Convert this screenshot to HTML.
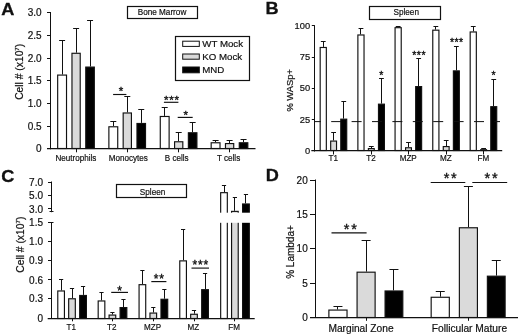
<!DOCTYPE html>
<html><head><meta charset="utf-8"><title>Figure</title>
<style>
html,body{margin:0;padding:0;background:#fff;}
body{width:520px;height:335px;overflow:hidden;}
svg{display:block;will-change:transform;opacity:0.999;font-family:"Liberation Sans",sans-serif;fill:#111;}
</style></head><body>
<svg width="520" height="335" viewBox="0 0 520 335">
<rect x="0" y="0" width="520" height="335" fill="#fff"/>
<text transform="translate(1.20,14.60) scale(1.1,1)" font-size="16.5" font-weight="bold" stroke="#111" stroke-width="0.3">A</text>
<line x1="50.50" y1="12.00" x2="50.50" y2="149.30" stroke="#111" stroke-width="1" />
<line x1="47.00" y1="148.50" x2="255.50" y2="148.50" stroke="#111" stroke-width="1.25" />
<line x1="47.00" y1="12.50" x2="50.60" y2="12.50" stroke="#111" stroke-width="1" />
<text transform="translate(41.60,16.10) scale(1.0,1)" font-size="10" text-anchor="end" stroke="#111" stroke-width="0.2" >3.0</text>
<line x1="47.00" y1="35.50" x2="50.60" y2="35.50" stroke="#111" stroke-width="1" />
<text transform="translate(41.60,39.10) scale(1.0,1)" font-size="10" text-anchor="end" stroke="#111" stroke-width="0.2" >2.5</text>
<line x1="47.00" y1="58.50" x2="50.60" y2="58.50" stroke="#111" stroke-width="1" />
<text transform="translate(41.60,61.60) scale(1.0,1)" font-size="10" text-anchor="end" stroke="#111" stroke-width="0.2" >2.0</text>
<line x1="47.00" y1="80.50" x2="50.60" y2="80.50" stroke="#111" stroke-width="1" />
<text transform="translate(41.60,84.10) scale(1.0,1)" font-size="10" text-anchor="end" stroke="#111" stroke-width="0.2" >1.5</text>
<line x1="47.00" y1="103.50" x2="50.60" y2="103.50" stroke="#111" stroke-width="1" />
<text transform="translate(41.60,106.80) scale(1.0,1)" font-size="10" text-anchor="end" stroke="#111" stroke-width="0.2" >1.0</text>
<line x1="47.00" y1="126.50" x2="50.60" y2="126.50" stroke="#111" stroke-width="1" />
<text transform="translate(41.60,129.90) scale(1.0,1)" font-size="10" text-anchor="end" stroke="#111" stroke-width="0.2" >0.5</text>
<line x1="47.00" y1="148.50" x2="50.60" y2="148.50" stroke="#111" stroke-width="1" />
<text transform="translate(41.60,152.40) scale(1.0,1)" font-size="10" text-anchor="end" stroke="#111" stroke-width="0.2" >0</text>
<text transform="translate(23.30,71.80) rotate(-90) scale(1.03,1)" font-size="10" text-anchor="middle" stroke="#111" stroke-width="0.2">Cell # (x10<tspan font-size="6" dy="-4">7</tspan><tspan dy="4">)</tspan></text>
<rect x="127.50" y="6.50" width="70.00" height="12.00" fill="#fff" stroke="#111" stroke-width="1.2"/>
<text transform="translate(162.00,15.20) scale(0.93,1)" font-size="8.8" text-anchor="middle" stroke="#111" stroke-width="0.2" >Bone Marrow</text>
<rect x="175.50" y="36.50" width="74.00" height="44.00" fill="#fff" stroke="#111" stroke-width="1.2"/>
<rect x="182.7" y="41.20" width="16.6" height="5.20" fill="#fff" stroke="#111" stroke-width="1"/>
<text transform="translate(202.30,47.00) scale(1.0,1)" font-size="9.7" text-anchor="start" stroke="#111" stroke-width="0.2" >WT Mock</text>
<rect x="182.7" y="54.00" width="16.6" height="5.20" fill="#dadada" stroke="#111" stroke-width="1"/>
<text transform="translate(202.30,60.00) scale(1.0,1)" font-size="9.7" text-anchor="start" stroke="#111" stroke-width="0.2" >KO Mock</text>
<rect x="182.7" y="67.00" width="16.6" height="5.80" fill="#000" stroke="#111" stroke-width="1"/>
<text transform="translate(202.30,73.30) scale(1.0,1)" font-size="9.7" text-anchor="start" stroke="#111" stroke-width="0.2" >MND</text>
<line x1="62.50" y1="40.70" x2="62.50" y2="74.50" stroke="#111" stroke-width="1.05" />
<line x1="59.10" y1="40.50" x2="65.10" y2="40.50" stroke="#111" stroke-width="1.05" />
<rect x="57.67" y="75.08" width="8.85" height="73.42" fill="#fff" stroke="#111" stroke-width="1.15"/>
<line x1="76.50" y1="28.90" x2="76.50" y2="52.70" stroke="#111" stroke-width="1.05" />
<line x1="73.10" y1="28.50" x2="79.10" y2="28.50" stroke="#111" stroke-width="1.05" />
<rect x="71.97" y="53.28" width="8.25" height="95.22" fill="#dadada" stroke="#111" stroke-width="1.15"/>
<line x1="90.50" y1="20.80" x2="90.50" y2="66.50" stroke="#111" stroke-width="1.05" />
<line x1="87.05" y1="20.50" x2="93.05" y2="20.50" stroke="#111" stroke-width="1.05" />
<rect x="85.77" y="67.08" width="8.55" height="81.42" fill="#000" stroke="#111" stroke-width="1.15"/>
<line x1="76.50" y1="148.80" x2="76.50" y2="152.30" stroke="#111" stroke-width="1" />
<text transform="translate(75.90,160.80) scale(0.9,1)" font-size="9" text-anchor="middle" stroke="#111" stroke-width="0.2" >Neutrophils</text>
<line x1="113.50" y1="121.60" x2="113.50" y2="126.20" stroke="#111" stroke-width="1.05" />
<line x1="110.30" y1="121.50" x2="116.30" y2="121.50" stroke="#111" stroke-width="1.05" />
<rect x="108.88" y="126.78" width="8.85" height="21.72" fill="#fff" stroke="#111" stroke-width="1.15"/>
<line x1="127.50" y1="97.00" x2="127.50" y2="112.40" stroke="#111" stroke-width="1.05" />
<line x1="124.30" y1="96.50" x2="130.30" y2="96.50" stroke="#111" stroke-width="1.05" />
<rect x="123.17" y="112.98" width="8.25" height="35.52" fill="#dadada" stroke="#111" stroke-width="1.15"/>
<line x1="141.50" y1="109.80" x2="141.50" y2="122.90" stroke="#111" stroke-width="1.05" />
<line x1="138.25" y1="109.50" x2="144.25" y2="109.50" stroke="#111" stroke-width="1.05" />
<rect x="136.97" y="123.48" width="8.55" height="25.02" fill="#000" stroke="#111" stroke-width="1.15"/>
<line x1="127.50" y1="148.80" x2="127.50" y2="152.30" stroke="#111" stroke-width="1" />
<text transform="translate(128.30,160.80) scale(0.9,1)" font-size="9" text-anchor="middle" stroke="#111" stroke-width="0.2" >Monocytes</text>
<line x1="164.50" y1="107.80" x2="164.50" y2="115.90" stroke="#111" stroke-width="1.05" />
<line x1="161.70" y1="107.50" x2="167.70" y2="107.50" stroke="#111" stroke-width="1.05" />
<rect x="160.27" y="116.48" width="8.85" height="32.02" fill="#fff" stroke="#111" stroke-width="1.15"/>
<line x1="178.50" y1="132.90" x2="178.50" y2="141.20" stroke="#111" stroke-width="1.05" />
<line x1="175.70" y1="132.50" x2="181.70" y2="132.50" stroke="#111" stroke-width="1.05" />
<rect x="174.57" y="141.77" width="8.25" height="6.73" fill="#dadada" stroke="#111" stroke-width="1.15"/>
<line x1="192.50" y1="122.90" x2="192.50" y2="132.20" stroke="#111" stroke-width="1.05" />
<line x1="189.65" y1="122.50" x2="195.65" y2="122.50" stroke="#111" stroke-width="1.05" />
<rect x="188.37" y="132.77" width="8.55" height="15.73" fill="#000" stroke="#111" stroke-width="1.15"/>
<line x1="178.50" y1="148.80" x2="178.50" y2="152.30" stroke="#111" stroke-width="1" />
<text transform="translate(176.70,160.80) scale(0.9,1)" font-size="9" text-anchor="middle" stroke="#111" stroke-width="0.2" >B cells</text>
<line x1="215.50" y1="140.50" x2="215.50" y2="142.20" stroke="#111" stroke-width="1.05" />
<line x1="212.60" y1="140.50" x2="218.60" y2="140.50" stroke="#111" stroke-width="1.05" />
<rect x="211.17" y="142.77" width="8.85" height="5.73" fill="#fff" stroke="#111" stroke-width="1.15"/>
<line x1="229.50" y1="140.50" x2="229.50" y2="143.00" stroke="#111" stroke-width="1.05" />
<line x1="226.60" y1="140.50" x2="232.60" y2="140.50" stroke="#111" stroke-width="1.05" />
<rect x="225.47" y="143.57" width="8.25" height="4.93" fill="#dadada" stroke="#111" stroke-width="1.15"/>
<line x1="243.50" y1="139.20" x2="243.50" y2="142.20" stroke="#111" stroke-width="1.05" />
<line x1="240.55" y1="139.50" x2="246.55" y2="139.50" stroke="#111" stroke-width="1.05" />
<rect x="239.27" y="142.77" width="8.55" height="5.73" fill="#000" stroke="#111" stroke-width="1.15"/>
<line x1="229.50" y1="148.80" x2="229.50" y2="152.30" stroke="#111" stroke-width="1" />
<text transform="translate(228.60,160.80) scale(0.9,1)" font-size="9" text-anchor="middle" stroke="#111" stroke-width="0.2" >T cells</text>
<line x1="113.10" y1="94.50" x2="126.40" y2="94.50" stroke="#111" stroke-width="1.15" />
<text transform="translate(121.00,95.18) scale(1.0,1)" font-size="11.5" text-anchor="middle" stroke="#111" stroke-width="0.35" >*</text>
<line x1="163.90" y1="102.30" x2="178.40" y2="102.30" stroke="#111" stroke-width="1.15" />
<text transform="translate(171.80,104.18) scale(1.0,1)" font-size="11.5" text-anchor="middle" stroke="#111" stroke-width="0.35" letter-spacing="0.8">***</text>
<line x1="177.70" y1="117.40" x2="192.70" y2="117.40" stroke="#111" stroke-width="1.15" />
<text transform="translate(185.70,119.28) scale(1.0,1)" font-size="11.5" text-anchor="middle" stroke="#111" stroke-width="0.35" >*</text>
<text transform="translate(265.60,14.40) scale(1.1,1)" font-size="16.5" font-weight="bold" stroke="#111" stroke-width="0.3">B</text>
<line x1="314.50" y1="25.30" x2="314.50" y2="151.50" stroke="#111" stroke-width="1" />
<line x1="311.40" y1="150.50" x2="502.20" y2="150.50" stroke="#111" stroke-width="1.25" />
<line x1="311.80" y1="25.50" x2="314.80" y2="25.50" stroke="#111" stroke-width="1" />
<text transform="translate(310.10,28.90) scale(1.0,1)" font-size="9.3" text-anchor="end" stroke="#111" stroke-width="0.2" >100</text>
<line x1="311.80" y1="57.50" x2="314.80" y2="57.50" stroke="#111" stroke-width="1" />
<text transform="translate(310.10,60.30) scale(1.0,1)" font-size="9.3" text-anchor="end" stroke="#111" stroke-width="0.2" >75</text>
<line x1="311.80" y1="88.50" x2="314.80" y2="88.50" stroke="#111" stroke-width="1" />
<text transform="translate(310.10,91.40) scale(1.0,1)" font-size="9.3" text-anchor="end" stroke="#111" stroke-width="0.2" >50</text>
<line x1="311.80" y1="119.50" x2="314.80" y2="119.50" stroke="#111" stroke-width="1" />
<text transform="translate(310.10,123.00) scale(1.0,1)" font-size="9.3" text-anchor="end" stroke="#111" stroke-width="0.2" >25</text>
<line x1="311.80" y1="150.50" x2="314.80" y2="150.50" stroke="#111" stroke-width="1" />
<text transform="translate(310.10,154.10) scale(1.0,1)" font-size="9.3" text-anchor="end" stroke="#111" stroke-width="0.2" >0</text>
<text transform="translate(293.40,90.30) rotate(-90) scale(1.04,1)" font-size="9" text-anchor="middle" stroke="#111" stroke-width="0.2">% WASp+</text>
<rect x="369.50" y="6.50" width="71.00" height="13.00" fill="#fff" stroke="#111" stroke-width="1.2"/>
<text transform="translate(406.20,15.00) scale(0.91,1)" font-size="9" text-anchor="middle" stroke="#111" stroke-width="0.2" >Spleen</text>
<line x1="323.50" y1="41.50" x2="323.50" y2="46.90" stroke="#111" stroke-width="1.05" />
<line x1="320.85" y1="41.50" x2="325.65" y2="41.50" stroke="#111" stroke-width="1.05" />
<rect x="320.18" y="47.48" width="6.15" height="103.03" fill="#fff" stroke="#111" stroke-width="1.15"/>
<line x1="333.50" y1="132.40" x2="333.50" y2="140.50" stroke="#111" stroke-width="1.05" />
<line x1="331.20" y1="132.50" x2="336.00" y2="132.50" stroke="#111" stroke-width="1.05" />
<rect x="330.68" y="141.07" width="5.85" height="9.43" fill="#dadada" stroke="#111" stroke-width="1.15"/>
<line x1="343.50" y1="101.10" x2="343.50" y2="118.60" stroke="#111" stroke-width="1.05" />
<line x1="341.35" y1="101.50" x2="346.15" y2="101.50" stroke="#111" stroke-width="1.05" />
<rect x="340.78" y="119.17" width="5.95" height="31.33" fill="#000" stroke="#111" stroke-width="1.15"/>
<line x1="333.50" y1="151.00" x2="333.50" y2="154.50" stroke="#111" stroke-width="1" />
<text transform="translate(333.30,160.80) scale(0.9,1)" font-size="9" text-anchor="middle" stroke="#111" stroke-width="0.2" >T1</text>
<line x1="360.50" y1="28.90" x2="360.50" y2="34.40" stroke="#111" stroke-width="1.05" />
<line x1="358.55" y1="28.50" x2="363.35" y2="28.50" stroke="#111" stroke-width="1.05" />
<rect x="357.88" y="34.98" width="6.15" height="115.53" fill="#fff" stroke="#111" stroke-width="1.15"/>
<line x1="371.50" y1="146.70" x2="371.50" y2="148.00" stroke="#111" stroke-width="1.05" />
<line x1="368.90" y1="146.50" x2="373.70" y2="146.50" stroke="#111" stroke-width="1.05" />
<rect x="368.38" y="148.57" width="5.85" height="1.93" fill="#dadada" stroke="#111" stroke-width="1.15"/>
<line x1="381.50" y1="79.00" x2="381.50" y2="103.60" stroke="#111" stroke-width="1.05" />
<line x1="379.05" y1="78.50" x2="383.85" y2="78.50" stroke="#111" stroke-width="1.05" />
<rect x="378.48" y="104.17" width="5.95" height="46.33" fill="#000" stroke="#111" stroke-width="1.15"/>
<line x1="371.50" y1="151.00" x2="371.50" y2="154.50" stroke="#111" stroke-width="1" />
<text transform="translate(371.00,160.80) scale(0.9,1)" font-size="9" text-anchor="middle" stroke="#111" stroke-width="0.2" >T2</text>
<line x1="398.50" y1="26.10" x2="398.50" y2="27.10" stroke="#111" stroke-width="1.05" />
<line x1="395.75" y1="26.50" x2="400.55" y2="26.50" stroke="#111" stroke-width="1.05" />
<rect x="395.07" y="27.68" width="6.15" height="122.83" fill="#fff" stroke="#111" stroke-width="1.15"/>
<line x1="408.50" y1="142.50" x2="408.50" y2="147.20" stroke="#111" stroke-width="1.05" />
<line x1="406.10" y1="142.50" x2="410.90" y2="142.50" stroke="#111" stroke-width="1.05" />
<rect x="405.57" y="147.77" width="5.85" height="2.73" fill="#dadada" stroke="#111" stroke-width="1.15"/>
<line x1="418.50" y1="58.20" x2="418.50" y2="86.00" stroke="#111" stroke-width="1.05" />
<line x1="416.25" y1="58.50" x2="421.05" y2="58.50" stroke="#111" stroke-width="1.05" />
<rect x="415.68" y="86.58" width="5.95" height="63.92" fill="#000" stroke="#111" stroke-width="1.15"/>
<line x1="408.50" y1="151.00" x2="408.50" y2="154.50" stroke="#111" stroke-width="1" />
<text transform="translate(408.20,160.80) scale(0.9,1)" font-size="9" text-anchor="middle" stroke="#111" stroke-width="0.2" >MZP</text>
<line x1="435.50" y1="26.30" x2="435.50" y2="29.60" stroke="#111" stroke-width="1.05" />
<line x1="433.45" y1="26.50" x2="438.25" y2="26.50" stroke="#111" stroke-width="1.05" />
<rect x="432.77" y="30.18" width="6.15" height="120.33" fill="#fff" stroke="#111" stroke-width="1.15"/>
<line x1="446.50" y1="140.50" x2="446.50" y2="146.00" stroke="#111" stroke-width="1.05" />
<line x1="443.80" y1="140.50" x2="448.60" y2="140.50" stroke="#111" stroke-width="1.05" />
<rect x="443.27" y="146.57" width="5.85" height="3.93" fill="#dadada" stroke="#111" stroke-width="1.15"/>
<line x1="456.50" y1="46.40" x2="456.50" y2="70.30" stroke="#111" stroke-width="1.05" />
<line x1="453.95" y1="46.50" x2="458.75" y2="46.50" stroke="#111" stroke-width="1.05" />
<rect x="453.38" y="70.88" width="5.95" height="79.62" fill="#000" stroke="#111" stroke-width="1.15"/>
<line x1="446.50" y1="151.00" x2="446.50" y2="154.50" stroke="#111" stroke-width="1" />
<text transform="translate(445.90,160.80) scale(0.9,1)" font-size="9" text-anchor="middle" stroke="#111" stroke-width="0.2" >MZ</text>
<line x1="473.50" y1="26.30" x2="473.50" y2="31.40" stroke="#111" stroke-width="1.05" />
<line x1="470.85" y1="26.50" x2="475.65" y2="26.50" stroke="#111" stroke-width="1.05" />
<rect x="470.18" y="31.97" width="6.15" height="118.53" fill="#fff" stroke="#111" stroke-width="1.15"/>
<line x1="483.50" y1="148.00" x2="483.50" y2="149.20" stroke="#111" stroke-width="1.05" />
<line x1="481.20" y1="148.50" x2="486.00" y2="148.50" stroke="#111" stroke-width="1.05" />
<rect x="480.68" y="149.70" width="5.85" height="0.80" fill="#dadada" stroke="#111" stroke-width="1.15"/>
<line x1="493.50" y1="79.80" x2="493.50" y2="106.10" stroke="#111" stroke-width="1.05" />
<line x1="491.35" y1="79.50" x2="496.15" y2="79.50" stroke="#111" stroke-width="1.05" />
<rect x="490.78" y="106.67" width="5.95" height="43.83" fill="#000" stroke="#111" stroke-width="1.15"/>
<line x1="483.50" y1="151.00" x2="483.50" y2="154.50" stroke="#111" stroke-width="1" />
<text transform="translate(483.30,160.80) scale(0.9,1)" font-size="9" text-anchor="middle" stroke="#111" stroke-width="0.2" >FM</text>
<line x1="314.80" y1="121.60" x2="500.00" y2="121.60" stroke="#111" stroke-width="1" stroke-dasharray="10 10.4" stroke-dashoffset="4.0"/>
<text transform="translate(381.20,79.36) scale(1.0,1)" font-size="10.5" text-anchor="middle" stroke="#111" stroke-width="0.35" >*</text>
<text transform="translate(419.15,58.56) scale(1.0,1)" font-size="10.5" text-anchor="middle" stroke="#111" stroke-width="0.35" letter-spacing="0.5">***</text>
<text transform="translate(456.75,46.26) scale(1.0,1)" font-size="10.5" text-anchor="middle" stroke="#111" stroke-width="0.35" letter-spacing="0.5">***</text>
<text transform="translate(493.60,79.36) scale(1.0,1)" font-size="10.5" text-anchor="middle" stroke="#111" stroke-width="0.35" >*</text>
<text transform="translate(1.30,182.20) scale(1.1,1)" font-size="16.5" font-weight="bold" stroke="#111" stroke-width="0.3">C</text>
<line x1="51.50" y1="181.50" x2="51.50" y2="212.20" stroke="#111" stroke-width="1" />
<line x1="49.50" y1="211.50" x2="53.50" y2="211.50" stroke="#111" stroke-width="1" />
<line x1="51.50" y1="222.70" x2="51.50" y2="318.50" stroke="#111" stroke-width="1" />
<line x1="47.70" y1="318.50" x2="254.70" y2="318.50" stroke="#111" stroke-width="1.25" />
<line x1="48.00" y1="182.50" x2="51.50" y2="182.50" stroke="#111" stroke-width="1" />
<text transform="translate(43.00,185.60) scale(1.0,1)" font-size="10" text-anchor="end" stroke="#111" stroke-width="0.2" >7.0</text>
<line x1="48.00" y1="195.50" x2="51.50" y2="195.50" stroke="#111" stroke-width="1" />
<text transform="translate(43.00,199.00) scale(1.0,1)" font-size="10" text-anchor="end" stroke="#111" stroke-width="0.2" >5.0</text>
<line x1="48.00" y1="208.50" x2="51.50" y2="208.50" stroke="#111" stroke-width="1" />
<text transform="translate(43.00,212.50) scale(1.0,1)" font-size="10" text-anchor="end" stroke="#111" stroke-width="0.2" >3.0</text>
<line x1="48.00" y1="222.50" x2="51.50" y2="222.50" stroke="#111" stroke-width="1" />
<text transform="translate(43.00,226.30) scale(1.0,1)" font-size="10" text-anchor="end" stroke="#111" stroke-width="0.2" >1.5</text>
<line x1="48.00" y1="241.50" x2="51.50" y2="241.50" stroke="#111" stroke-width="1" />
<text transform="translate(43.00,245.10) scale(1.0,1)" font-size="10" text-anchor="end" stroke="#111" stroke-width="0.2" >1.0</text>
<line x1="48.00" y1="260.50" x2="51.50" y2="260.50" stroke="#111" stroke-width="1" />
<text transform="translate(43.00,264.10) scale(1.0,1)" font-size="10" text-anchor="end" stroke="#111" stroke-width="0.2" >0.9</text>
<line x1="48.00" y1="279.50" x2="51.50" y2="279.50" stroke="#111" stroke-width="1" />
<text transform="translate(43.00,283.50) scale(1.0,1)" font-size="10" text-anchor="end" stroke="#111" stroke-width="0.2" >0.6</text>
<line x1="48.00" y1="298.50" x2="51.50" y2="298.50" stroke="#111" stroke-width="1" />
<text transform="translate(43.00,302.30) scale(1.0,1)" font-size="10" text-anchor="end" stroke="#111" stroke-width="0.2" >0.3</text>
<line x1="48.00" y1="318.50" x2="51.50" y2="318.50" stroke="#111" stroke-width="1" />
<text transform="translate(43.00,321.60) scale(1.0,1)" font-size="10" text-anchor="end" stroke="#111" stroke-width="0.2" >0</text>
<line x1="49.50" y1="222.50" x2="53.50" y2="222.50" stroke="#111" stroke-width="1" />
<text transform="translate(24.30,244.70) rotate(-90) scale(1.03,1)" font-size="10" text-anchor="middle" stroke="#111" stroke-width="0.2">Cell # (x10<tspan font-size="6" dy="-4">7</tspan><tspan dy="4">)</tspan></text>
<rect x="116.50" y="184.50" width="70.00" height="13.00" fill="#fff" stroke="#111" stroke-width="1.2"/>
<text transform="translate(152.60,194.60) scale(0.91,1)" font-size="9" text-anchor="middle" stroke="#111" stroke-width="0.2" >Spleen</text>
<line x1="61.50" y1="279.40" x2="61.50" y2="290.40" stroke="#111" stroke-width="1.05" />
<line x1="59.00" y1="279.50" x2="63.20" y2="279.50" stroke="#111" stroke-width="1.05" />
<rect x="57.78" y="290.97" width="6.65" height="27.53" fill="#fff" stroke="#111" stroke-width="1.15"/>
<line x1="72.50" y1="288.60" x2="72.50" y2="298.20" stroke="#111" stroke-width="1.05" />
<line x1="69.90" y1="288.50" x2="74.10" y2="288.50" stroke="#111" stroke-width="1.05" />
<rect x="68.67" y="298.77" width="6.65" height="19.73" fill="#dadada" stroke="#111" stroke-width="1.15"/>
<line x1="83.50" y1="286.10" x2="83.50" y2="294.90" stroke="#111" stroke-width="1.05" />
<line x1="80.95" y1="286.50" x2="85.15" y2="286.50" stroke="#111" stroke-width="1.05" />
<rect x="79.67" y="295.47" width="6.75" height="23.03" fill="#000" stroke="#111" stroke-width="1.15"/>
<line x1="72.50" y1="318.00" x2="72.50" y2="321.30" stroke="#111" stroke-width="1" />
<text transform="translate(71.30,330.30) scale(0.9,1)" font-size="9" text-anchor="middle" stroke="#111" stroke-width="0.2" >T1</text>
<line x1="101.50" y1="292.40" x2="101.50" y2="300.40" stroke="#111" stroke-width="1.05" />
<line x1="99.40" y1="292.50" x2="103.60" y2="292.50" stroke="#111" stroke-width="1.05" />
<rect x="98.18" y="300.97" width="6.65" height="17.53" fill="#fff" stroke="#111" stroke-width="1.15"/>
<line x1="112.50" y1="312.50" x2="112.50" y2="314.50" stroke="#111" stroke-width="1.05" />
<line x1="110.30" y1="312.50" x2="114.50" y2="312.50" stroke="#111" stroke-width="1.05" />
<rect x="109.08" y="315.07" width="6.65" height="3.43" fill="#dadada" stroke="#111" stroke-width="1.15"/>
<line x1="123.50" y1="299.90" x2="123.50" y2="307.00" stroke="#111" stroke-width="1.05" />
<line x1="121.35" y1="299.50" x2="125.55" y2="299.50" stroke="#111" stroke-width="1.05" />
<rect x="120.08" y="307.57" width="6.75" height="10.93" fill="#000" stroke="#111" stroke-width="1.15"/>
<line x1="112.50" y1="318.00" x2="112.50" y2="321.30" stroke="#111" stroke-width="1" />
<text transform="translate(111.70,330.30) scale(0.9,1)" font-size="9" text-anchor="middle" stroke="#111" stroke-width="0.2" >T2</text>
<line x1="142.50" y1="270.60" x2="142.50" y2="284.10" stroke="#111" stroke-width="1.05" />
<line x1="140.30" y1="270.50" x2="144.50" y2="270.50" stroke="#111" stroke-width="1.05" />
<rect x="139.07" y="284.68" width="6.65" height="33.82" fill="#fff" stroke="#111" stroke-width="1.15"/>
<line x1="153.50" y1="307.50" x2="153.50" y2="312.50" stroke="#111" stroke-width="1.05" />
<line x1="151.20" y1="307.50" x2="155.40" y2="307.50" stroke="#111" stroke-width="1.05" />
<rect x="149.97" y="313.07" width="6.65" height="5.43" fill="#dadada" stroke="#111" stroke-width="1.15"/>
<line x1="164.50" y1="289.10" x2="164.50" y2="298.70" stroke="#111" stroke-width="1.05" />
<line x1="162.25" y1="289.50" x2="166.45" y2="289.50" stroke="#111" stroke-width="1.05" />
<rect x="160.97" y="299.27" width="6.75" height="19.23" fill="#000" stroke="#111" stroke-width="1.15"/>
<line x1="153.50" y1="318.00" x2="153.50" y2="321.30" stroke="#111" stroke-width="1" />
<text transform="translate(152.60,330.30) scale(0.9,1)" font-size="9" text-anchor="middle" stroke="#111" stroke-width="0.2" >MZP</text>
<line x1="183.50" y1="229.70" x2="183.50" y2="260.30" stroke="#111" stroke-width="1.05" />
<line x1="181.00" y1="229.50" x2="185.20" y2="229.50" stroke="#111" stroke-width="1.05" />
<rect x="179.77" y="260.88" width="6.65" height="57.62" fill="#fff" stroke="#111" stroke-width="1.15"/>
<line x1="194.50" y1="310.50" x2="194.50" y2="313.70" stroke="#111" stroke-width="1.05" />
<line x1="191.90" y1="310.50" x2="196.10" y2="310.50" stroke="#111" stroke-width="1.05" />
<rect x="190.67" y="314.27" width="6.65" height="4.23" fill="#dadada" stroke="#111" stroke-width="1.15"/>
<line x1="205.50" y1="273.10" x2="205.50" y2="289.10" stroke="#111" stroke-width="1.05" />
<line x1="202.95" y1="273.50" x2="207.15" y2="273.50" stroke="#111" stroke-width="1.05" />
<rect x="201.67" y="289.68" width="6.75" height="28.82" fill="#000" stroke="#111" stroke-width="1.15"/>
<line x1="194.50" y1="318.00" x2="194.50" y2="321.30" stroke="#111" stroke-width="1" />
<text transform="translate(193.30,330.30) scale(0.9,1)" font-size="9" text-anchor="middle" stroke="#111" stroke-width="0.2" >MZ</text>
<line x1="224.50" y1="185.10" x2="224.50" y2="192.10" stroke="#111" stroke-width="1.05" />
<line x1="221.90" y1="185.50" x2="226.10" y2="185.50" stroke="#111" stroke-width="1.05" />
<rect x="220.67" y="192.67" width="6.65" height="125.83" fill="#fff" stroke="#111" stroke-width="1.15"/>
<line x1="234.50" y1="197.90" x2="234.50" y2="210.80" stroke="#111" stroke-width="1.05" />
<line x1="232.80" y1="197.50" x2="237.00" y2="197.50" stroke="#111" stroke-width="1.05" />
<rect x="231.57" y="211.38" width="6.65" height="107.12" fill="#dadada" stroke="#111" stroke-width="1.15"/>
<line x1="245.50" y1="194.60" x2="245.50" y2="203.40" stroke="#111" stroke-width="1.05" />
<line x1="243.85" y1="194.50" x2="248.05" y2="194.50" stroke="#111" stroke-width="1.05" />
<rect x="242.57" y="203.97" width="6.75" height="114.53" fill="#000" stroke="#111" stroke-width="1.15"/>
<line x1="234.50" y1="318.00" x2="234.50" y2="321.30" stroke="#111" stroke-width="1" />
<text transform="translate(234.20,330.30) scale(0.9,1)" font-size="9" text-anchor="middle" stroke="#111" stroke-width="0.2" >FM</text>
<rect x="215" y="212.7" width="40" height="10.1" fill="#fff"/>
<line x1="111.20" y1="292.40" x2="128.00" y2="292.40" stroke="#111" stroke-width="1.15" />
<text transform="translate(119.70,294.54) scale(1.0,1)" font-size="12" text-anchor="middle" stroke="#111" stroke-width="0.35" >*</text>
<line x1="151.30" y1="281.60" x2="166.40" y2="281.60" stroke="#111" stroke-width="1.15" />
<text transform="translate(159.35,283.24) scale(1.0,1)" font-size="12" text-anchor="middle" stroke="#111" stroke-width="0.35" letter-spacing="0.9">**</text>
<line x1="191.50" y1="268.10" x2="209.00" y2="268.10" stroke="#111" stroke-width="1.15" />
<text transform="translate(200.75,269.44) scale(1.0,1)" font-size="12" text-anchor="middle" stroke="#111" stroke-width="0.35" letter-spacing="0.9">***</text>
<text transform="translate(265.80,181.40) scale(1.1,1)" font-size="16.5" font-weight="bold" stroke="#111" stroke-width="0.3">D</text>
<line x1="315.50" y1="179.50" x2="315.50" y2="318.00" stroke="#111" stroke-width="1" />
<line x1="310.00" y1="317.50" x2="518.00" y2="317.50" stroke="#111" stroke-width="1.25" />
<line x1="310.00" y1="180.50" x2="315.20" y2="180.50" stroke="#111" stroke-width="1" />
<text transform="translate(307.70,183.60) scale(1.0,1)" font-size="10" text-anchor="end" stroke="#111" stroke-width="0.2" >20</text>
<line x1="310.00" y1="214.50" x2="315.20" y2="214.50" stroke="#111" stroke-width="1" />
<text transform="translate(307.70,217.80) scale(1.0,1)" font-size="10" text-anchor="end" stroke="#111" stroke-width="0.2" >15</text>
<line x1="310.00" y1="248.50" x2="315.20" y2="248.50" stroke="#111" stroke-width="1" />
<text transform="translate(307.70,252.20) scale(1.0,1)" font-size="10" text-anchor="end" stroke="#111" stroke-width="0.2" >10</text>
<line x1="310.00" y1="283.50" x2="315.20" y2="283.50" stroke="#111" stroke-width="1" />
<text transform="translate(307.70,286.70) scale(1.0,1)" font-size="10" text-anchor="end" stroke="#111" stroke-width="0.2" >5</text>
<line x1="310.00" y1="317.50" x2="315.20" y2="317.50" stroke="#111" stroke-width="1" />
<text transform="translate(307.70,321.10) scale(1.0,1)" font-size="10" text-anchor="end" stroke="#111" stroke-width="0.2" >0</text>
<text transform="translate(294.00,252.00) rotate(-90) scale(1.0,1)" font-size="10" text-anchor="middle" stroke="#111" stroke-width="0.2">% Lambda+</text>
<line x1="337.50" y1="306.70" x2="337.50" y2="309.50" stroke="#111" stroke-width="1.05" />
<line x1="333.45" y1="306.50" x2="342.45" y2="306.50" stroke="#111" stroke-width="1.05" />
<rect x="328.88" y="310.07" width="18.15" height="7.43" fill="#fff" stroke="#111" stroke-width="1.15"/>
<line x1="366.50" y1="241.00" x2="366.50" y2="271.60" stroke="#111" stroke-width="1.05" />
<line x1="361.60" y1="240.50" x2="370.60" y2="240.50" stroke="#111" stroke-width="1.05" />
<rect x="357.07" y="272.18" width="18.05" height="45.32" fill="#dadada" stroke="#111" stroke-width="1.15"/>
<line x1="393.50" y1="269.30" x2="393.50" y2="290.40" stroke="#111" stroke-width="1.05" />
<line x1="389.45" y1="269.50" x2="398.45" y2="269.50" stroke="#111" stroke-width="1.05" />
<rect x="385.07" y="290.97" width="17.75" height="26.53" fill="#000" stroke="#111" stroke-width="1.15"/>
<line x1="366.50" y1="317.50" x2="366.50" y2="320.80" stroke="#111" stroke-width="1" />
<text transform="translate(361.00,331.80) scale(1.02,1)" font-size="10" text-anchor="middle" stroke="#111" stroke-width="0.2" >Marginal Zone</text>
<line x1="440.50" y1="291.70" x2="440.50" y2="296.70" stroke="#111" stroke-width="1.05" />
<line x1="435.75" y1="291.50" x2="444.75" y2="291.50" stroke="#111" stroke-width="1.05" />
<rect x="431.17" y="297.27" width="18.15" height="20.23" fill="#fff" stroke="#111" stroke-width="1.15"/>
<line x1="468.50" y1="186.60" x2="468.50" y2="227.20" stroke="#111" stroke-width="1.05" />
<line x1="463.90" y1="186.50" x2="472.90" y2="186.50" stroke="#111" stroke-width="1.05" />
<rect x="459.37" y="227.77" width="18.05" height="89.73" fill="#dadada" stroke="#111" stroke-width="1.15"/>
<line x1="496.50" y1="260.30" x2="496.50" y2="275.60" stroke="#111" stroke-width="1.05" />
<line x1="491.75" y1="260.50" x2="500.75" y2="260.50" stroke="#111" stroke-width="1.05" />
<rect x="487.37" y="276.18" width="17.75" height="41.32" fill="#000" stroke="#111" stroke-width="1.15"/>
<line x1="468.50" y1="317.50" x2="468.50" y2="320.80" stroke="#111" stroke-width="1" />
<text transform="translate(469.40,331.80) scale(1.02,1)" font-size="10" text-anchor="middle" stroke="#111" stroke-width="0.2" >Follicular Mature</text>
<line x1="331.50" y1="232.80" x2="366.60" y2="232.80" stroke="#111" stroke-width="1.15" />
<text transform="translate(351.20,233.74) scale(1.0,1)" font-size="14.5" text-anchor="middle" stroke="#111" stroke-width="0.35" letter-spacing="1.8">**</text>
<line x1="430.70" y1="182.50" x2="465.30" y2="182.50" stroke="#111" stroke-width="1" />
<text transform="translate(451.10,183.04) scale(1.0,1)" font-size="14.5" text-anchor="middle" stroke="#111" stroke-width="0.35" letter-spacing="1.8">**</text>
<line x1="472.30" y1="182.50" x2="507.20" y2="182.50" stroke="#111" stroke-width="1" />
<text transform="translate(492.00,183.04) scale(1.0,1)" font-size="14.5" text-anchor="middle" stroke="#111" stroke-width="0.35" letter-spacing="1.8">**</text>
</svg>
</body></html>
